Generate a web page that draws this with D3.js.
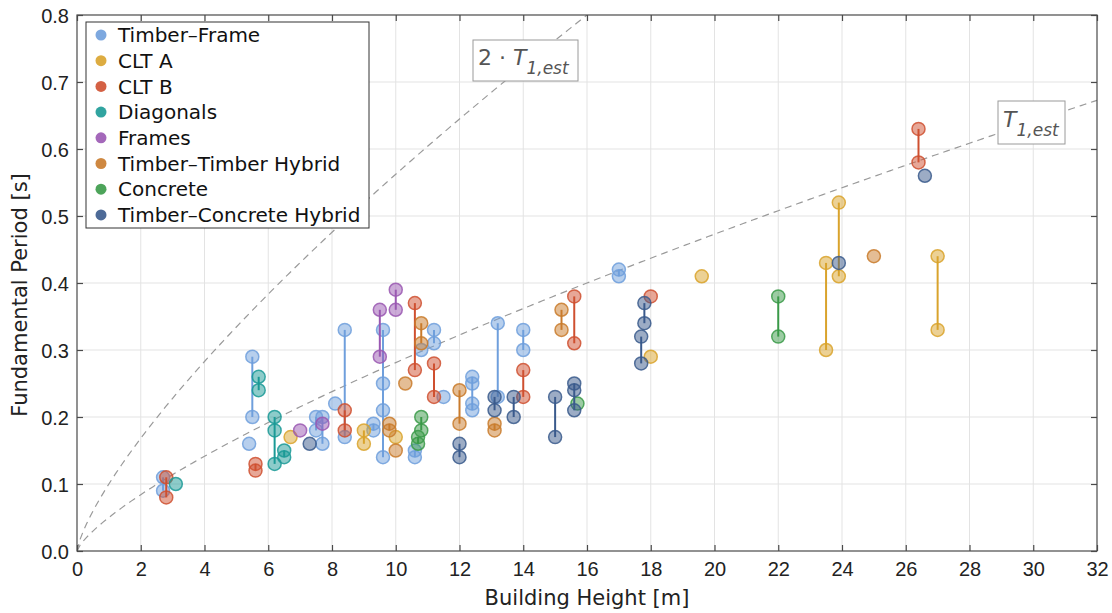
<!DOCTYPE html>
<html>
<head>
<meta charset="utf-8">
<script src="https://cdn.jsdelivr.net/npm/d3@7"></script>
<style>
  body { margin: 0; background: #fff; }
  svg { display: block; font-family: "DejaVu Sans", sans-serif; }
</style>
</head>
<body>
<svg id="chart" width="1112" height="613"></svg>
<script>
// building data: [height, [periods...]] per category
const timberFrame = [
  [2.7, [0.11, 0.09]], [5.4, [0.16]], [5.5, [0.29, 0.20]], [7.5, [0.20, 0.18]],
  [7.7, [0.20, 0.16]], [8.1, [0.22]], [8.4, [0.33, 0.17]], [9.3, [0.19, 0.18]],
  [9.6, [0.33, 0.25, 0.21, 0.14]], [10.6, [0.15, 0.14]], [10.8, [0.30]],
  [11.2, [0.33, 0.31]], [11.5, [0.23]], [12.4, [0.26, 0.25, 0.22, 0.21]],
  [13.2, [0.34, 0.23]], [14.0, [0.33, 0.30]], [17.0, [0.42, 0.41]]
];
const cltA = [
  [6.7, [0.17]], [9.0, [0.18, 0.16]], [10.0, [0.17]], [18.0, [0.29]], [19.6, [0.41]],
  [23.5, [0.43, 0.30]], [23.9, [0.52, 0.41]], [27.0, [0.44, 0.33]]
];
const cltB = [
  [2.8, [0.11, 0.08]], [5.6, [0.13, 0.12]], [8.4, [0.21, 0.18]], [10.6, [0.37, 0.27]],
  [11.2, [0.28, 0.23]], [14.0, [0.27, 0.23]], [15.6, [0.38, 0.31]], [18.0, [0.38]],
  [26.4, [0.63, 0.58]]
];
const diagonals = [
  [3.1, [0.10]], [5.7, [0.26, 0.24]], [6.2, [0.20, 0.18, 0.13]], [6.5, [0.15, 0.14]]
];
const frames = [
  [7.0, [0.18]], [7.7, [0.19]], [9.5, [0.36, 0.29]], [10.0, [0.39, 0.36]]
];
const timberHybrid = [
  [9.8, [0.19, 0.18]], [10.0, [0.15]], [10.3, [0.25]], [10.8, [0.34, 0.31]],
  [12.0, [0.24, 0.19]], [13.1, [0.19, 0.18]], [15.2, [0.36, 0.33]], [25.0, [0.44]]
];
const concrete = [
  [10.8, [0.20, 0.18]], [10.7, [0.17, 0.16]], [15.7, [0.22]], [22.0, [0.38, 0.32]]
];
const concreteHybrid = [
  [7.3, [0.16]], [12.0, [0.16, 0.14]], [13.1, [0.23, 0.21]], [13.7, [0.23, 0.20]],
  [15.0, [0.23, 0.17]], [15.6, [0.25, 0.24, 0.21]], [17.8, [0.37, 0.34]],
  [17.7, [0.32, 0.28]], [23.9, [0.43]], [26.6, [0.56]]
];

const categories = ["Timber\u2013Frame", "CLT A", "CLT B", "Diagonals", "Frames",
  "Timber\u2013Timber Hybrid", "Concrete", "Timber\u2013Concrete Hybrid"];
const seriesData = [timberFrame, cltA, cltB, diagonals, frames, timberHybrid, concrete, concreteHybrid];
const colors = ["#6f9fdc", "#d9a32c", "#cf5030", "#1b9a96", "#9a58b2", "#c97b2c", "#3a9a48", "#3a5a8c"];

const xTicks = d3.range(0, 33, 2);
const yTicks = d3.range(0, 0.81, 0.1);

const svg = d3.select("#chart");
const mLeft = 77, mRight = 1097, mTop = 15, mBottom = 551;

const x = d3.scaleLinear().domain([0, 32]).range([mLeft, mRight]);
const y = d3.scaleLinear().domain([0, 0.8]).range([mBottom, mTop]);

// grid
const grid = svg.append("g");
grid.selectAll("line.gx").data(xTicks.slice(1, -1)).join("line")
  .attr("x1", d => x(d)).attr("x2", d => x(d))
  .attr("y1", mTop).attr("y2", mBottom)
  .attr("stroke", "#e3e3e3").attr("stroke-width", 1);
grid.selectAll("line.gy").data(yTicks.slice(1, -1)).join("line")
  .attr("y1", d => y(d)).attr("y2", d => y(d))
  .attr("x1", mLeft).attr("x2", mRight)
  .attr("stroke", "#e3e3e3").attr("stroke-width", 1);

// estimate curves T = 0.05 * H^0.75
const hs = d3.range(0, 32.01, 0.1);
const clipId = "plotclip";
svg.append("clipPath").attr("id", clipId).append("rect")
  .attr("x", mLeft).attr("y", mTop).attr("width", mRight - mLeft).attr("height", mBottom - mTop);

const curve = k => d3.line()
  .x(h => x(h))
  .y(h => y(k * 0.05 * Math.pow(h, 0.75)));

[1, 2].forEach(k => {
  svg.append("path")
    .datum(hs.filter(h => k * 0.05 * Math.pow(h, 0.75) <= 0.82))
    .attr("d", curve(k))
    .attr("fill", "none")
    .attr("stroke", "#9a9a9a")
    .attr("stroke-width", 1.2)
    .attr("stroke-dasharray", "7,5")
    .attr("clip-path", `url(#${clipId})`);
});

// data marks
const marks = svg.append("g");
seriesData.forEach((series, i) => {
  const g = marks.append("g");
  const color = colors[i];
  g.selectAll("line").data(series.filter(d => d[1].length > 1)).join("line")
    .attr("x1", d => x(d[0])).attr("x2", d => x(d[0]))
    .attr("y1", d => y(d3.max(d[1]))).attr("y2", d => y(d3.min(d[1])))
    .attr("stroke", color).attr("stroke-width", 2);
  const pts = series.flatMap(d => d[1].map(p => ({ h: d[0], t: p })));
  g.selectAll("circle").data(pts).join("circle")
    .attr("cx", d => x(d.h)).attr("cy", d => y(d.t))
    .attr("r", 6.5)
    .attr("fill", color).attr("fill-opacity", 0.5)
    .attr("stroke", color).attr("stroke-opacity", 0.85).attr("stroke-width", 1.5);
});

// axes frame
const axisColor = "#4a4a4a";
svg.append("rect")
  .attr("x", mLeft).attr("y", mTop).attr("width", mRight - mLeft).attr("height", mBottom - mTop)
  .attr("fill", "none").attr("stroke", axisColor).attr("stroke-width", 1.2);

const xAxis = svg.append("g").attr("transform", `translate(0,${mBottom})`)
  .call(d3.axisBottom(x).tickValues(xTicks).tickSize(-6).tickFormat(d3.format("d")));
const xAxisTop = svg.append("g").attr("transform", `translate(0,${mTop})`)
  .call(d3.axisTop(x).tickValues(xTicks).tickSize(-6).tickFormat(""));
const yAxis = svg.append("g").attr("transform", `translate(${mLeft},0)`)
  .call(d3.axisLeft(y).tickValues(yTicks).tickSize(-6).tickFormat(d3.format(".1f")));
const yAxisRight = svg.append("g").attr("transform", `translate(${mRight},0)`)
  .call(d3.axisRight(y).tickValues(yTicks).tickSize(-6).tickFormat(""));

[xAxis, xAxisTop, yAxis, yAxisRight].forEach(a => {
  a.select(".domain").remove();
  a.selectAll(".tick line").attr("stroke", axisColor).attr("stroke-width", 1.2);
  a.selectAll(".tick text").attr("fill", "#222").style("font-size", "20px");
});
xAxis.selectAll(".tick text").attr("y", 8).attr("dy", "0.85em");
yAxis.selectAll(".tick text").attr("x", -8).attr("dy", "0.35em");

// axis titles
svg.append("text")
  .attr("x", (mLeft + mRight) / 2).attr("y", 605)
  .attr("text-anchor", "middle").style("font-size", "21px").attr("fill", "#222")
  .text("Building Height [m]");
svg.append("text")
  .attr("transform", `translate(27,${(mTop + mBottom) / 2 + 12}) rotate(-90)`)
  .attr("text-anchor", "middle").style("font-size", "21px").attr("fill", "#222")
  .text("Fundamental Period [s]");

// legend
const legend = svg.append("g");
legend.append("rect")
  .attr("x", 86).attr("y", 22).attr("width", 283).attr("height", 206)
  .attr("fill", "#fff").attr("stroke", "#333").attr("stroke-width", 1);
categories.forEach((c, i) => {
  const ly = 35 + i * 25.7;
  legend.append("circle").attr("cx", 101).attr("cy", ly).attr("r", 5.5)
    .attr("fill", colors[i]).attr("fill-opacity", 0.9);
  legend.append("text").attr("x", 118).attr("y", ly).attr("dy", "0.36em")
    .style("font-size", "20px").attr("fill", "#111").text(c);
});

// curve labels
function curveLabel(bx, by, bw, bh, prefix) {
  const g = svg.append("g");
  g.append("rect").attr("x", bx).attr("y", by).attr("width", bw).attr("height", bh)
    .attr("fill", "#fff").attr("stroke", "#9a9a9a").attr("stroke-width", 1);
  const t = g.append("text").attr("x", bx + 5).attr("y", by + bh / 2 + 4)
    .style("font-size", "22px").attr("fill", "#555");
  if (prefix) t.append("tspan").text(prefix);
  t.append("tspan").style("font-style", "italic").text("T");
  t.append("tspan").attr("dy", 9).style("font-size", "17px").style("font-style", "italic").text("1,est");
}
curveLabel(473, 40, 105, 41, "2 \u00b7 ");
curveLabel(998, 101, 67, 43, "");
</script>
</body>
</html>
